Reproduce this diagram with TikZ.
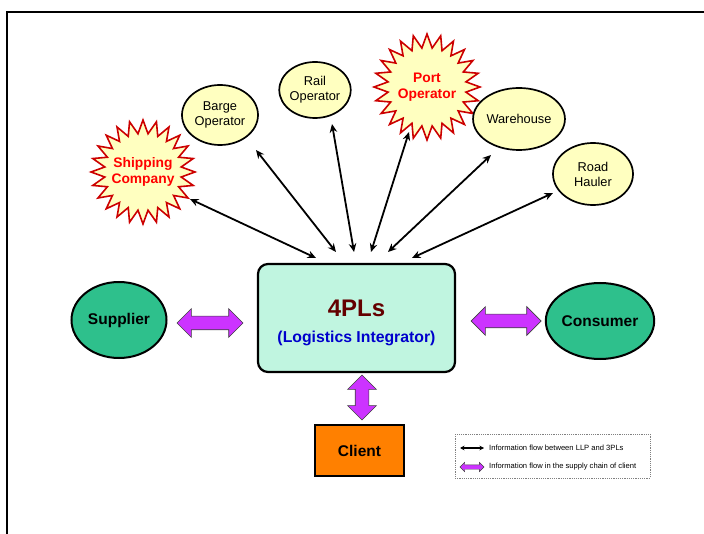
\documentclass[tikz,border=0pt]{standalone}
\usepackage{fontspec}
\setmainfont{Liberation Sans}
\usetikzlibrary{shapes.geometric,shapes.arrows,arrows.meta}
\definecolor{paleyellow}{RGB}{255,255,192}
\definecolor{burstred}{RGB}{204,0,0}
\definecolor{textred}{RGB}{255,0,0}
\definecolor{partygreen}{RGB}{46,192,140}
\definecolor{mint}{RGB}{192,245,224}
\definecolor{hubmaroon}{RGB}{100,0,0}
\definecolor{hubblue}{RGB}{0,0,204}
\definecolor{clientorange}{RGB}{255,128,0}
\definecolor{flowpurple}{RGB}{204,51,255}
\begin{document}
\begin{tikzpicture}[x=1pt,y=-1pt,
  operator/.style={ellipse, draw, line width=1.7pt, fill=paleyellow, align=center,
    inner sep=0pt, font=\fontsize{12.8}{15}\selectfont},
  burst/.style={star, star points=24, star point ratio=1.35, draw=burstred,
    line width=1.6pt, fill=paleyellow, inner sep=0pt, minimum size=104pt},
  burstlabel/.style={text=textred, align=center, inner sep=0pt,
    font=\bfseries\fontsize{13.8}{16.5}\selectfont},
  party/.style={ellipse, draw, line width=2pt, fill=partygreen, inner sep=0pt,
    minimum width=95pt, minimum height=76pt, font=\bfseries\fontsize{15.5}{18}\selectfont},
  hubbox/.style={rectangle, rounded corners=10pt, draw, line width=2.2pt, fill=mint,
    minimum width=197pt, minimum height=108pt},
  clientbox/.style={rectangle, draw, line width=2pt, fill=clientorange,
    minimum width=89pt, minimum height=51pt, font=\bfseries\fontsize{15.5}{18}\selectfont},
  infoflow/.style={{Stealth[length=8.5pt,width=7.5pt]}-{Stealth[length=8.5pt,width=7.5pt]}, line width=1.8pt},
  chainflow/.style={double arrow, draw=black!75, line width=0.7pt, fill=flowpurple,
    inner xsep=0pt, inner ysep=6.5pt, double arrow head extend=7.5pt},
  legendtext/.style={anchor=west, inner sep=0pt, font=\fontsize{7.6}{9}\selectfont}
]
\useasboundingbox (0,0) rectangle (704,534);

% page frame (top and left edges)
\draw[line width=1.5pt] (7,534) -- (7,12) -- (704,12);

% service providers around the integrator
\node[burst, label={[burstlabel]center:Shipping\\Company}] (ship) at (143,172) {};
\node[burst, minimum size=106pt, label={[burstlabel]center:Port\\Operator}] (port) at (427,87) {};
\node[operator, minimum width=76pt, minimum height=60pt] (barge) at (220,115) {Barge\\Operator};
\node[operator, minimum width=66pt, minimum height=56pt] (rail) at (315,90) {Rail\\Operator};
\node[operator, minimum width=74pt, minimum height=62pt] (ware) at (519,119) {Warehouse};
\node[operator, minimum width=80pt, minimum height=62pt] (road) at (593,174) {Road\\Hauler};

% the integrator
\node[hubbox] (hub) at (356.5,318) {};
\node[text=hubmaroon, font=\bfseries\fontsize{24}{28}\selectfont] (hubtitle) at (356.5,308) {4PLs};
\node[text=hubblue, font=\bfseries\fontsize{15.8}{18}\selectfont] (hubsub) at (356.5,338) {(Logistics Integrator)};

% supply chain parties
\node[party] (supplier) at (119,320) {Supplier};
\node[party] (consumer) at (600,321) {Consumer};
\node[clientbox] (client) at (359.5,450.5) {Client};

% information flow end points
\coordinate (shipE) at (190,199);  \coordinate (hubA) at (316,258);
\coordinate (bargeE) at (256,150); \coordinate (hubB) at (336,252);
\coordinate (railE) at (332,124);  \coordinate (hubC) at (354,252);
\coordinate (portE) at (409,132);  \coordinate (hubD) at (371,252);
\coordinate (wareE) at (491,155);  \coordinate (hubE) at (388,252);
\coordinate (roadE) at (553,193);  \coordinate (hubF) at (412,258);

\draw[infoflow] (shipE) -- (hubA);
\draw[infoflow] (bargeE) -- (hubB);
\draw[infoflow] (railE) -- (hubC);
\draw[infoflow] (portE) -- (hubD);
\draw[infoflow] (wareE) -- (hubE);
\draw[infoflow] (roadE) -- (hubF);

% supply chain flows
\node[chainflow, minimum height=66pt] (supplyflow) at (210,323) {};
\node[chainflow, minimum height=70pt] (consumeflow) at (506,321) {};
\node[chainflow, minimum height=45pt, rotate=90] (clientflow) at (362,397.5) {};

% legend
\draw[gray, line width=0.6pt, dash pattern=on 1.2pt off 1pt] (455,434) rectangle (650,478);
\coordinate (legA1) at (460,448); \coordinate (legA2) at (484,448);
\draw[{Stealth[length=4.5pt,width=4.5pt]}-{Stealth[length=4.5pt,width=4.5pt]}, line width=1.3pt] (legA1) -- (legA2);
\node[legendtext] (leg1) at (489,448) {Information flow between LLP and 3PLs};
\node[double arrow, draw=black!75, line width=0.4pt, fill=flowpurple, inner xsep=0pt, inner ysep=2pt,
  double arrow head extend=2.5pt, minimum height=24pt] (legflow) at (472,467) {};
\node[legendtext] (leg2) at (489,467) {Information flow in the supply chain of client};
\end{tikzpicture}
\end{document}
